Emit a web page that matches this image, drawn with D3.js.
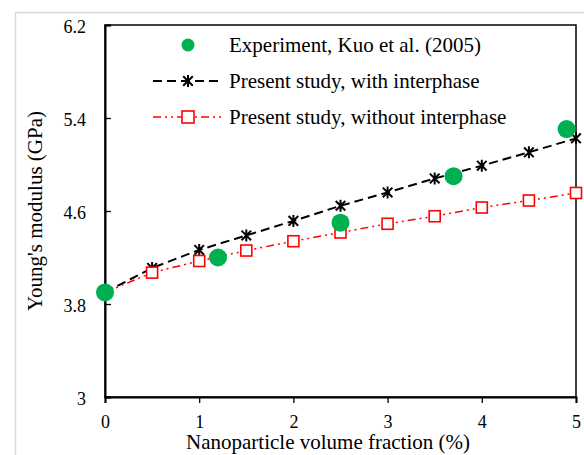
<!DOCTYPE html>
<html>
<head>
<meta charset="utf-8">
<script src="https://cdn.jsdelivr.net/npm/d3@7"></script>
<style>
  body { margin: 0; background: #fff; }
  svg { display: block; font-family: "Liberation Serif", "Times New Roman", serif; }
</style>
</head>
<body>
<svg id="chart"></svg>
<script>
// Data
const fractions = [0, 0.5, 1, 1.5, 2, 2.5, 3, 3.5, 4, 4.5, 5];
const withInterphase = [3.9, 4.11, 4.265, 4.39, 4.515, 4.645, 4.76, 4.88, 4.99, 5.105, 5.225];
const withoutInterphase = [3.9, 4.07, 4.17, 4.26, 4.34, 4.415, 4.49, 4.555, 4.63, 4.69, 4.755];
const expFractions = [0, 1.2, 2.5, 3.7, 4.9];
const expValues = [3.9, 4.2, 4.5, 4.9, 5.305];
const xTicks = [0, 1, 2, 3, 4, 5];
const yTicks = [3, 3.8, 4.6, 5.4, 6.2];
const legendLabels = ["Experiment, Kuo et al. (2005)", "Present study, with interphase", "Present study, without interphase"];

const width = 584;
const height = 455;
const margin = { top: 25, right: 8, bottom: 58, left: 105 };

const svg = d3.select("#chart").attr("width", width).attr("height", height);

// light frame around the figure
svg.append("path")
    .attr("d", `M15.5,${height} V12.5 H${width}`)
    .attr("fill", "none")
    .attr("stroke", "#d9d9d9")
    .attr("stroke-width", 1.5);

const xScale = d3.scaleLinear().domain([0, 5]).range([margin.left, width - margin.right]);
const yScale = d3.scaleLinear().domain([3, 6.2]).range([height - margin.bottom, margin.top]);

// plot box (top and right)
svg.append("rect")
    .attr("x", xScale(0)).attr("y", yScale(6.2))
    .attr("width", xScale(5) - xScale(0)).attr("height", yScale(3) - yScale(6.2))
    .attr("fill", "none").attr("stroke", "#000").attr("stroke-width", 1.5);

// axes
const xAxis = svg.append("g")
    .attr("transform", `translate(0, ${yScale(3)})`)
    .call(d3.axisBottom(xScale).tickValues(xTicks).tickSize(6).tickPadding(12).tickFormat(d3.format("d")));

const yAxis = svg.append("g")
    .attr("transform", `translate(${xScale(0)}, 0)`)
    .call(d3.axisLeft(yScale).tickValues(yTicks).tickSize(-6).tickPadding(19).tickFormat(d => String(d)));

[xAxis, yAxis].forEach(g => {
    g.select(".domain").attr("stroke", "#000").attr("stroke-width", 2);
    g.selectAll(".tick line").attr("stroke", "#000").attr("stroke-width", 1.3);
    g.selectAll(".tick text").attr("font-size", 18).attr("font-family", "Liberation Serif").attr("fill", "#000");
});
yAxis.selectAll(".tick text").attr("dy", "0.43em");

// axis titles
svg.append("text")
    .attr("x", 328).attr("y", 449)
    .attr("text-anchor", "middle")
    .attr("font-size", 21)
    .text("Nanoparticle volume fraction (%)");

svg.append("text")
    .attr("transform", `translate(42, ${(yScale(3) + yScale(6.2)) / 2}) rotate(-90)`)
    .attr("text-anchor", "middle")
    .attr("font-size", 21)
    .text("Young's modulus (GPa)");

// star marker: X plus vertical bar
const starSymbol = {
    draw(context, size) {
        const r = Math.sqrt(size) / 2;
        const d = r * 0.8;
        context.moveTo(0, -r); context.lineTo(0, r);
        context.moveTo(-d, -d); context.lineTo(d, d);
        context.moveTo(-d, d); context.lineTo(d, -d);
    }
};

const line = d3.line().x(d => xScale(d[0])).y(d => yScale(d[1]));
const blackData = fractions.map((f, i) => [f, withInterphase[i]]);
const redData = fractions.map((f, i) => [f, withoutInterphase[i]]);
const expData = expFractions.map((f, i) => [f, expValues[i]]);

// with interphase
svg.append("path")
    .datum(blackData)
    .attr("d", line)
    .attr("fill", "none").attr("stroke", "#000").attr("stroke-width", 2)
    .attr("stroke-dasharray", "9,5");

svg.selectAll(".star")
    .data(blackData)
    .enter().append("path")
    .attr("class", "star")
    .attr("transform", d => `translate(${xScale(d[0])}, ${yScale(d[1])})`)
    .attr("d", d3.symbol(starSymbol, 144))
    .attr("fill", "none").attr("stroke", "#000").attr("stroke-width", 2);

// without interphase
svg.append("path")
    .datum(redData)
    .attr("d", line)
    .attr("fill", "none").attr("stroke", "#ff0000").attr("stroke-width", 1.5)
    .attr("stroke-dasharray", "8,4,2,4,2,4");

svg.selectAll(".square")
    .data(redData)
    .enter().append("rect")
    .attr("class", "square")
    .attr("x", d => xScale(d[0]) - 5.5).attr("y", d => yScale(d[1]) - 5.5)
    .attr("width", 11).attr("height", 11)
    .attr("fill", "#fff").attr("stroke", "#ff0000").attr("stroke-width", 1.6);

// experiment
svg.selectAll(".exp")
    .data(expData)
    .enter().append("circle")
    .attr("class", "exp")
    .attr("cx", d => xScale(d[0])).attr("cy", d => yScale(d[1]))
    .attr("r", 9)
    .attr("fill", "#00b050");

// legend
const legend = svg.append("g").attr("transform", "translate(188, 45)");
const rowGap = 36;

legend.append("circle").attr("cx", 0).attr("cy", 0).attr("r", 6.5).attr("fill", "#00b050");

legend.append("line").attr("x1", -35).attr("x2", 33).attr("y1", rowGap).attr("y2", rowGap)
    .attr("stroke", "#000").attr("stroke-width", 2).attr("stroke-dasharray", "9,5");
legend.append("path").attr("transform", `translate(0, ${rowGap})`)
    .attr("d", d3.symbol(starSymbol, 144))
    .attr("fill", "none").attr("stroke", "#000").attr("stroke-width", 2);

legend.append("line").attr("x1", -35).attr("x2", 33).attr("y1", rowGap * 2).attr("y2", rowGap * 2)
    .attr("stroke", "#ff0000").attr("stroke-width", 1.5).attr("stroke-dasharray", "8,4,2,4,2,4");
legend.append("rect").attr("x", -6).attr("y", rowGap * 2 - 6).attr("width", 12).attr("height", 12)
    .attr("fill", "#fff").attr("stroke", "#ff0000").attr("stroke-width", 1.6);

legend.selectAll(".label")
    .data(legendLabels)
    .enter().append("text")
    .attr("class", "label")
    .attr("x", 41).attr("y", (d, i) => i * rowGap + 7)
    .attr("font-size", 21)
    .text(d => d);
</script>
</body>
</html>
